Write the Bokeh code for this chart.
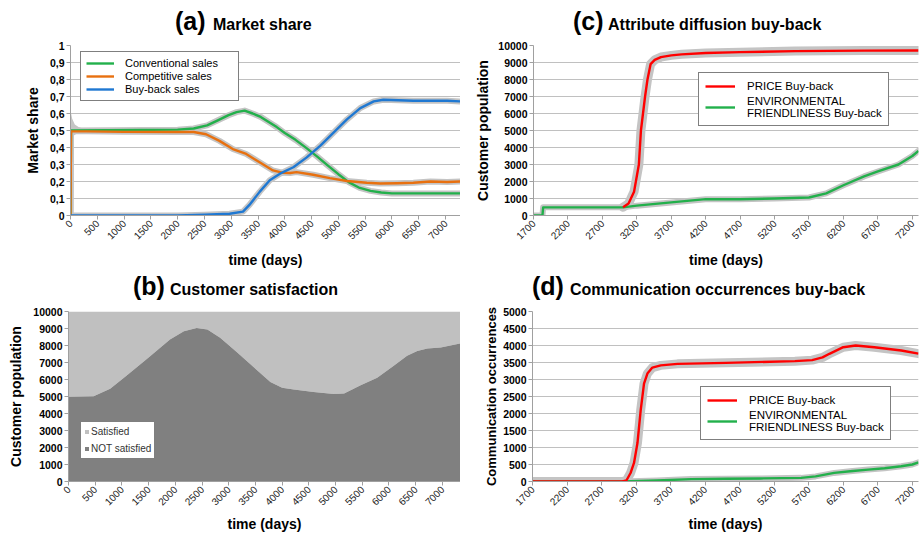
import math
from bokeh.plotting import figure
from bokeh.models import Legend, LegendItem, FixedTicker, Range1d, CustomJSTickFormatter, Div
from bokeh.layouts import column, row
from bokeh.embed import file_html
from bokeh.resources import INLINE

# ---------------- (a) Market share ----------------
conv_days = [0, 10, 2000, 2300, 2550, 2750, 2950, 3100, 3250, 3400, 3550, 3700, 3850, 4000, 4200,
             4400, 4600, 4800, 5000, 5200, 5400, 5600, 5800, 6000, 6500, 7000, 7280]
conv_share = [0, 0.5, 0.505, 0.512, 0.53, 0.56, 0.59, 0.608, 0.617, 0.6, 0.58, 0.55, 0.52, 0.485, 0.445,
              0.398, 0.348, 0.295, 0.243, 0.195, 0.162, 0.145, 0.135, 0.13, 0.13, 0.13, 0.13]
comp_days = [0, 10, 300, 1000, 2000, 2300, 2530, 2780, 3030, 3280, 3530, 3780, 3970, 4100, 4220,
             4530, 4840, 5160, 5530, 5780, 6100, 6400, 6720, 7030, 7280]
comp_share = [0, 0.495, 0.495, 0.492, 0.491, 0.491, 0.478, 0.439, 0.391, 0.362, 0.313, 0.265, 0.251, 0.25, 0.255,
              0.24, 0.22, 0.203, 0.193, 0.188, 0.19, 0.193, 0.2, 0.197, 0.2]
buy_days = [0, 2000, 2500, 2970, 3220, 3340, 3530, 3720, 3910, 4160, 4410, 4660, 4910, 5160, 5410,
            5660, 5840, 6400, 7030, 7280]
buy_share = [0, 0.0, 0.004, 0.01, 0.023, 0.062, 0.139, 0.207, 0.246, 0.284, 0.342, 0.41, 0.487, 0.565, 0.632,
             0.671, 0.681, 0.675, 0.675, 0.671]
# early simulation spread (grey band) around the competitive share
spread_days = [0, 30, 80, 150, 250, 400, 600]
spread_hi = [0.62, 0.57, 0.535, 0.52, 0.51, 0.505, 0.5]
spread_lo = [0.43, 0.46, 0.475, 0.485, 0.49, 0.492, 0.494]

# ---------------- (b) Customer satisfaction ----------------
sat_days = [0, 470, 780, 1090, 1500, 1900, 2160, 2400, 2600, 2840, 3160, 3470, 3780, 4000, 4220,
            4590, 4970, 5160, 5470, 5780, 6090, 6340, 6530, 6720, 6970, 7340]
not_satisfied = [4980, 5020, 5460, 6240, 7300, 8360, 8840, 9030, 8940, 8460, 7590, 6720, 5850, 5520, 5410,
                 5270, 5140, 5180, 5660, 6100, 6810, 7390, 7680, 7820, 7880, 8130]
population_total = [10000] * len(sat_days)

# ---------------- (c) Attribute diffusion buy-back ----------------
price_c_days = [3000, 3080, 3160, 3230, 3260, 3320, 3355, 3400, 3460, 3550, 3700, 3850, 4200, 4700, 5500, 6500, 7290]
price_c_pop = [480, 700, 1400, 3000, 5000, 7000, 8000, 8900, 9150, 9320, 9420, 9480, 9560, 9610, 9670, 9700, 9710]
env_c_days = [1700, 1830, 1840, 3000, 3200, 3700, 4200, 4700, 5200, 5700, 5950, 6200, 6500, 6700, 7000, 7200, 7290]
env_c_pop = [0, 0, 480, 480, 580, 770, 960, 960, 1000, 1060, 1300, 1780, 2300, 2590, 3000, 3500, 3800]

# ---------------- (d) Communication occurrences buy-back ----------------
price_d_days = [1700, 3000, 3060, 3120, 3170, 3220, 3267, 3315, 3364, 3436, 3557, 3800, 4500, 5500, 5750,
                5900, 6000, 6200, 6380, 6650, 7040, 7290]
price_d_occ = [0, 0, 30, 250, 545, 1130, 2100, 2880, 3175, 3350, 3415, 3460, 3490, 3540, 3570,
               3650, 3756, 3950, 4000, 3950, 3853, 3760]
env_d_days = [1700, 3000, 3500, 4000, 4500, 5000, 5590, 5800, 6070, 6300, 6560, 6800, 7040, 7200, 7290]
env_d_occ = [0, 0, 30, 70, 80, 90, 107, 150, 253, 300, 350, 390, 447, 500, 564]

# ---------------- ticks ----------------
x_ticks_ab = [0, 500, 1000, 1500, 2000, 2500, 3000, 3500, 4000, 4500, 5000, 5500, 6000, 6500, 7000]
x_ticks_cd = [1700, 2200, 2700, 3200, 3700, 4200, 4700, 5200, 5700, 6200, 6700, 7200]
y_ticks_a = [0, 0.1, 0.2, 0.3, 0.4, 0.5, 0.6, 0.7, 0.8, 0.9, 1.0]
y_ticks_pop = [0, 1000, 2000, 3000, 4000, 5000, 6000, 7000, 8000, 9000, 10000]
y_ticks_d = [0, 500, 1000, 1500, 2000, 2500, 3000, 3500, 4000, 4500, 5000]

FONT = "Liberation Sans"
GREEN, ORANGE, BLUE, RED = "#22b04b", "#e8700f", "#1f78d2", "#ff0000"
BAND = "#c4c4c4"
W = 460


def make_fig(h, xr, yr, left, right, top, bottom, xticks, yticks, xlabel, ylabel,
             lab_standoff, xlab_standoff, grid=True, ylab_size="14px"):
    p = figure(width=W, height=h, x_range=Range1d(*xr), y_range=Range1d(*yr),
               output_backend="svg", toolbar_location=None,
               min_border_left=left, min_border_right=right, min_border_top=top, min_border_bottom=bottom)
    p.outline_line_color = None
    p.background_fill_color = "white"
    p.border_fill_color = "white"
    p.xgrid.visible = False
    p.ygrid.visible = grid
    p.ygrid.grid_line_color = "#c0c0c0"
    p.ygrid.grid_line_width = 1.2
    p.xaxis.ticker = FixedTicker(ticks=xticks)
    p.yaxis.ticker = FixedTicker(ticks=yticks)
    p.xaxis.major_label_orientation = math.pi / 4
    for ax in (p.xaxis[0], p.yaxis[0]):
        ax.axis_line_color = "#a0a0a0"
        ax.major_tick_line_color = "#a0a0a0"
        ax.major_tick_out = 4
        ax.major_tick_in = 0
        ax.minor_tick_line_color = None
        ax.major_label_standoff = 2
        ax.major_label_text_font = FONT
        ax.axis_label_text_font = FONT
        ax.axis_label_text_font_style = "bold"
        ax.axis_label_text_font_size = "14px"
        ax.axis_label_text_color = "black"
    p.yaxis.axis_label_text_font_size = ylab_size
    p.xaxis.major_label_text_font_size = "10px"
    p.xaxis.major_label_text_color = "#222222"
    p.yaxis.major_label_text_font_size = "10.5px"
    p.yaxis.major_label_text_font_style = "bold"
    p.yaxis.major_label_text_color = "black"
    p.xaxis.axis_label = xlabel
    p.yaxis.axis_label = ylabel
    p.xaxis.axis_label_standoff = xlab_standoff
    p.yaxis.axis_label_standoff = lab_standoff
    return p


def title_div(h, tag, text, x_tag, x_text, baseline):
    # positions of the spans are chosen so that both texts share the same baseline
    html = (
        f'<div style="position:relative;width:{W}px;height:{h}px;overflow:visible;'
        f'font-family:\'{FONT}\';color:black;">'
        f'<span style="position:absolute;left:{x_tag}px;top:{baseline - 21}px;font-size:25px;'
        f'line-height:25px;font-weight:bold;white-space:nowrap;">{tag}</span>'
        f'<span style="position:absolute;left:{x_text}px;top:{baseline - 13.5}px;font-size:16px;'
        f'line-height:16px;font-weight:bold;white-space:nowrap;">{text}</span>'
        f'</div>'
    )
    return Div(text=html, width=W, height=h, margin=(0, 0, 0, 0))


def make_legend(items, loc, font_size, glyph_w, glyph_h, label_h, padding, spacing, standoff, label_w,
                text_color="black"):
    lg = Legend(items=items, location=loc, orientation="vertical",
                label_text_font=FONT, label_text_font_size=font_size, label_text_color=text_color,
                glyph_width=glyph_w, glyph_height=glyph_h, label_height=label_h,
                padding=padding, spacing=spacing, label_standoff=standoff, label_width=label_w,
                margin=0, border_line_color="black", border_line_width=1.3,
                background_fill_color="white", background_fill_alpha=1.0)
    return lg


# ---------------- (a) ----------------
ta = title_div(38, "(a)", "Market share", 175, 213, 30)
pa = make_fig(232, (0, 7280), (0, 1), 70, 0, 7, 53, x_ticks_ab, y_ticks_a,
              "time (days)", "Market share", 6, 6)
pa.yaxis.formatter = CustomJSTickFormatter(code="""
    var s = (Math.round(tick * 10) / 10).toString();
    return s.replace('.', ',');
""")
pa.varea(x=spread_days, y1=spread_lo, y2=spread_hi, fill_color=BAND)
for d, v in [(conv_days, conv_share), (comp_days, comp_share), (buy_days, buy_share)]:
    pa.line(d, v, line_color=BAND, line_width=6, line_join="round", line_cap="round")
r_conv = pa.line(conv_days, conv_share, line_color=GREEN, line_width=2.4, line_join="round")
r_comp = pa.line(comp_days, comp_share, line_color=ORANGE, line_width=2.4, line_join="round")
r_buy = pa.line(buy_days, buy_share, line_color=BLUE, line_width=2.4, line_join="round")
pa.add_layout(make_legend([LegendItem(label="Conventional sales", renderers=[r_conv]),
                           LegendItem(label="Competitive sales", renderers=[r_comp]),
                           LegendItem(label="Buy-back sales", renderers=[r_buy])],
                          (10, 114), "11px", 28, 12, 12, 5, 1, 11, 108))

# ---------------- (c) ----------------
tc = title_div(38, "(c)", "Attribute diffusion buy-back", 113, 148, 30)
pc = make_fig(232, (1700, 7290), (0, 10000), 73, 2, 7, 53, x_ticks_cd, y_ticks_pop,
              "time (days)", "Customer population", 4, 6)
pc.line(env_c_days, env_c_pop, line_color=BAND, line_width=6, line_join="round", line_cap="round")
pc.line(price_c_days, price_c_pop, line_color=BAND, line_width=9, line_join="round", line_cap="round")
r_env_c = pc.line(env_c_days, env_c_pop, line_color=GREEN, line_width=2.4, line_join="round")
r_price_c = pc.line(price_c_days, price_c_pop, line_color=RED, line_width=2.4, line_join="round")
pc.add_layout(make_legend([LegendItem(label="PRICE Buy-back", renderers=[r_price_c]),
                           LegendItem(label="ENVIRONMENTAL\nFRIENDLINESS Buy-back", renderers=[r_env_c])],
                          (165, 89), "11.5px", 30, 12, 14, 6, 2, 12, 128))

# ---------------- (b) ----------------
tb = title_div(36, "(b)", "Customer satisfaction", 133, 170, 25)
pb = make_fig(228, (0, 7340), (0, 10000), 68, 0, 5, 51, x_ticks_ab, y_ticks_pop,
              "time (days)", "Customer population", 6, 4, grid=False)
r_sat = pb.varea(x=sat_days, y1=not_satisfied, y2=population_total, fill_color="#c0c0c0")
r_not = pb.varea(x=sat_days, y1=0, y2=not_satisfied, fill_color="#808080")
pb.add_layout(make_legend([LegendItem(label="Satisfied", renderers=[r_sat]),
                           LegendItem(label="NOT satisfied", renderers=[r_not])],
                          (12, 22), "10px", 5, 5, 13, 3, 4, 2, 60, text_color="#333333"))

# ---------------- (d) ----------------
td = title_div(36, "(d)", "Communication occurrences buy-back", 72, 110, 25)
pd_ = make_fig(228, (1700, 7290), (0, 5000), 72, 2, 5, 51, x_ticks_cd, y_ticks_d,
               "time (days)", "Communication occurrences", 1, 4, ylab_size="13px")
pd_.line(env_d_days, env_d_occ, line_color=BAND, line_width=6, line_join="round", line_cap="round")
pd_.line(price_d_days, price_d_occ, line_color=BAND, line_width=9, line_join="round", line_cap="round")
r_env_d = pd_.line(env_d_days, env_d_occ, line_color=GREEN, line_width=2.4, line_join="round")
r_price_d = pd_.line(price_d_days, price_d_occ, line_color=RED, line_width=2.4, line_join="round")
pd_.add_layout(make_legend([LegendItem(label="PRICE Buy-back", renderers=[r_price_d]),
                            LegendItem(label="ENVIRONMENTAL\nFRIENDLINESS Buy-back", renderers=[r_env_d])],
                           (168, 41), "11.5px", 30, 12, 14, 6, 2, 12, 128))

layout = column(row(column(ta, pa), column(tc, pc)), row(column(tb, pb), column(td, pd_)))
open("out.html", "w").write(file_html(layout, INLINE))
